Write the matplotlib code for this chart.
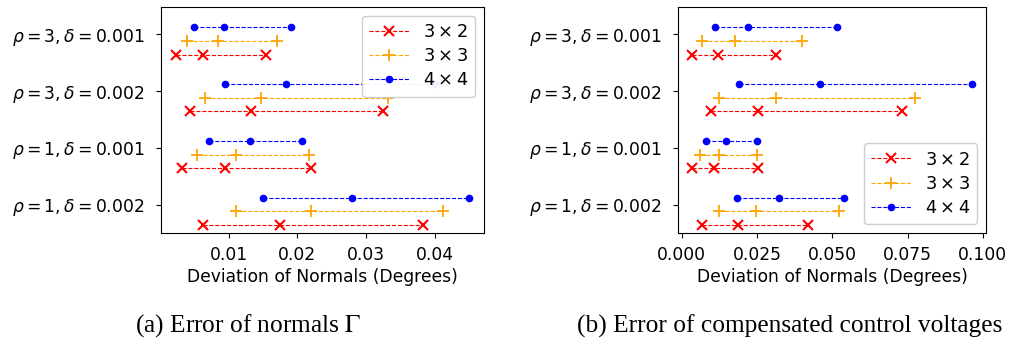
import matplotlib
matplotlib.use("Agg")
import matplotlib.pyplot as plt
import numpy as np

# rows from bottom to top
row_labels = [
    r"$\rho=1,\delta=0.002$",
    r"$\rho=1,\delta=0.001$",
    r"$\rho=3,\delta=0.002$",
    r"$\rho=3,\delta=0.001$",
]
series_labels = [r"$3\times2$", r"$3\times3$", r"$4\times4$"]

# (a) error of normals: [min, mid, max] per row
normals_3x2 = [[0.0063, 0.0174, 0.0383], [0.0032, 0.0094, 0.0220],
               [0.0044, 0.0133, 0.0325], [0.0023, 0.0062, 0.0154]]
normals_3x3 = [[0.0110, 0.0220, 0.0412], [0.0054, 0.0110, 0.0217],
               [0.0066, 0.0147, 0.0332], [0.0039, 0.0084, 0.0170]]
normals_4x4 = [[0.0150, 0.0280, 0.0450], [0.0072, 0.0131, 0.0207],
               [0.0095, 0.0183, 0.0400], [0.0049, 0.0093, 0.0191]]

# (b) error of compensated control voltages
volt_3x2 = [[0.0067, 0.0187, 0.0418], [0.0034, 0.0107, 0.0253],
            [0.0096, 0.0253, 0.0731], [0.0034, 0.0120, 0.0312]]
volt_3x3 = [[0.0123, 0.0246, 0.0522], [0.0061, 0.0123, 0.0251],
            [0.0123, 0.0314, 0.0776], [0.0068, 0.0176, 0.0401]]
volt_4x4 = [[0.0184, 0.0322, 0.0539], [0.0081, 0.0148, 0.0251],
            [0.0190, 0.0459, 0.0964], [0.0112, 0.0220, 0.0514]]

styles = [
    dict(color="red", marker="x", markersize=7.5, markeredgewidth=1.5),
    dict(color="orange", marker="+", markersize=8, markeredgewidth=1.3),
    dict(color="blue", marker="o", markersize=4.5),
]


def draw(ax, series, legend_loc):
    pos = np.arange(len(row_labels))
    for k, (data, st) in enumerate(zip(series, styles)):
        offset = (k - 1.5) * 0.24
        for i, vals in enumerate(data):
            ax.plot(vals, [pos[i] + offset] * len(vals), linestyle="--",
                    linewidth=0.8, label=series_labels[k] if i == 0 else None, **st)
    ax.set_yticks(pos)
    ax.set_yticklabels(row_labels)
    ax.set_ylim(-0.5, 3.48)
    ax.tick_params(axis="y", pad=8.5)
    ax.tick_params(axis="x", pad=6)
    ax.set_xlabel("Deviation of Normals (Degrees)", labelpad=3)
    ax.legend(loc=legend_loc, fontsize=12.8, handlelength=2.2,
              labelspacing=0.35, framealpha=0.95)


plt.rcParams["font.size"] = 12.3

fig = plt.figure(figsize=(10.09, 3.54), dpi=100)
W, H = 1009, 354
ax_a = fig.add_axes([161 / W, 1 - 233 / H, (484 - 161) / W, (233 - 7) / H])
ax_b = fig.add_axes([678 / W, 1 - 233 / H, (986 - 678) / W, (233 - 7) / H])

draw(ax_a, [normals_3x2, normals_3x3, normals_4x4], "upper right")
draw(ax_b, [volt_3x2, volt_3x3, volt_4x4], "lower right")
ax_a.set_xticks([0.01, 0.02, 0.03, 0.04])
ax_b.set_xticks([0.0, 0.025, 0.05, 0.075, 0.1])
ax_b.set_xticklabels(["0.000", "0.025", "0.050", "0.075", "0.100"])

fig.text(248 / W, 1 - 326 / H, r"(a) Error of normals $\Gamma$", ha="center",
         va="center", family="Liberation Serif", fontsize=18.3,
         math_fontfamily="stix")
fig.text(790 / W, 1 - 326 / H, "(b) Error of compensated control voltages",
         ha="center", va="center", family="Liberation Serif", fontsize=18.3)

fig.savefig("out.png", dpi=100)
